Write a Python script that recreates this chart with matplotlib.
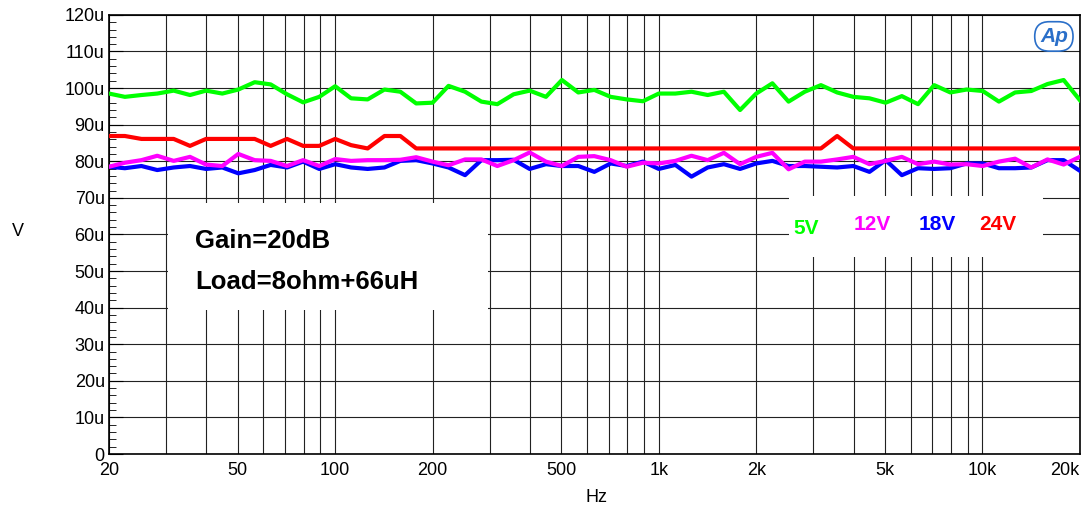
import numpy as np
import matplotlib
matplotlib.use('Agg')
import matplotlib.pyplot as plt
from matplotlib.patches import Rectangle
from matplotlib.ticker import FixedLocator, FuncFormatter

plt.rcParams['font.family'] = ['Liberation Sans', 'DejaVu Sans']

# Frequency points (Hz), ~20 per decade
freqs = [20, 22.4, 25.2, 28.2, 31.7, 35.6, 39.9, 44.8, 50.2, 56.4,
         63.2, 71.0, 79.6, 89.3, 100, 112, 126, 142, 159, 178,
         200, 224, 252, 283, 317, 356, 399, 448, 502, 564,
         632, 710, 796, 893, 1000, 1125, 1262, 1416, 1589, 1783,
         2000, 2244, 2518, 2825, 3170, 3557, 3991, 4477, 5024, 5637,
         6325, 7096, 7962, 8934, 10024, 11247, 12619, 14159, 15887, 17825,
         20000]

# Noise readings in uV
v5 = [98.5, 97.6, 98.1, 98.5, 99.3, 98.1, 99.3, 98.5, 99.6, 101.6,
      101.0, 98.3, 96.1, 97.6, 100.5, 97.2, 96.9, 99.6, 99.0, 95.8,
      96.0, 100.6, 99.0, 96.3, 95.6, 98.3, 99.3, 97.6, 102.2, 98.8,
      99.5, 97.6, 96.9, 96.4, 98.5, 98.5, 99.0, 98.1, 99.0, 94.0,
      98.5, 101.3, 96.3, 99.0, 100.8, 98.8, 97.6, 97.2, 96.0, 97.8,
      95.6, 100.8, 98.8, 99.6, 99.2, 96.3, 98.8, 99.2, 101.1, 102.2,
      96.7]
v24 = [86.9, 86.9, 86.1, 86.1, 86.1, 84.2, 86.1, 86.1, 86.1, 86.1,
       84.2, 86.1, 84.2, 84.2, 86.1, 84.4, 83.5, 86.9, 86.9, 83.5,
       83.5, 83.5, 83.5, 83.5, 83.5, 83.5, 83.5, 83.5, 83.5, 83.5,
       83.5, 83.5, 83.5, 83.5, 83.5, 83.5, 83.5, 83.5, 83.5, 83.5,
       83.5, 83.5, 83.5, 83.5, 83.5, 86.9, 83.5, 83.5, 83.5, 83.5,
       83.5, 83.5, 83.5, 83.5, 83.5, 83.5, 83.5, 83.5, 83.5, 83.5,
       83.5]
v12 = [78.5, 79.6, 80.3, 81.5, 80.1, 81.2, 79.1, 78.7, 82.0, 80.3,
       80.1, 78.7, 80.3, 78.7, 80.6, 80.1, 80.3, 80.3, 80.4, 81.1,
       79.9, 78.9, 80.5, 80.5, 78.7, 80.3, 82.4, 79.9, 78.7, 81.2,
       81.4, 80.3, 78.5, 79.6, 79.4, 80.1, 81.5, 80.3, 82.3, 79.2,
       81.2, 82.3, 77.8, 79.9, 79.9, 80.5, 81.2, 79.2, 80.1, 81.2,
       79.2, 79.9, 79.1, 79.2, 78.7, 79.9, 80.7, 78.3, 80.5, 79.1,
       81.2]
v18 = [78.5, 78.1, 78.7, 77.6, 78.3, 78.7, 77.9, 78.3, 76.7, 77.6,
       79.0, 78.3, 79.9, 77.9, 79.2, 78.3, 77.9, 78.3, 80.1, 80.3,
       79.4, 78.3, 76.2, 80.3, 80.3, 80.4, 77.9, 79.2, 78.7, 78.7,
       77.1, 79.4, 78.7, 79.9, 77.9, 79.0, 75.8, 78.3, 79.2, 77.9,
       79.4, 80.1, 78.7, 78.7, 78.5, 78.3, 78.7, 77.1, 80.3, 76.2,
       78.1, 77.9, 78.1, 79.4, 79.4, 78.1, 78.1, 78.3, 80.3, 80.3,
       77.4]

xtick_vals = [20, 50, 100, 200, 500, 1000, 2000, 5000, 10000, 20000]
xtick_labels = ['20', '50', '100', '200', '500', '1k', '2k', '5k', '10k', '20k']

fig = plt.figure(figsize=(10.82, 5.13), dpi=100)
ax = fig.add_axes([0.1007, 0.115, 0.8973, 0.856])

ax.plot(freqs, v5, color='#00ff00', lw=3, zorder=3)
ax.plot(freqs, v24, color='#ff0000', lw=3, zorder=3)
ax.plot(freqs, v18, color='#0000ff', lw=3, zorder=3)
ax.plot(freqs, v12, color='#ff00ff', lw=3, zorder=3)

ax.set_xscale('log')
ax.set_xlim(20, 20000)
ax.set_ylim(0, 120)

# vertical grid at every 1..9 x decade
grid_x = [m * d for d in [10, 100, 1000, 10000] for m in range(1, 10)]
grid_x = [g for g in grid_x if 20 < g < 20000]
ax.xaxis.set_major_locator(FixedLocator(xtick_vals))
ax.xaxis.set_minor_locator(FixedLocator(grid_x))
ax.set_xticklabels(xtick_labels)
ax.get_xticklabels()[-1].set_ha('right')
ax.yaxis.set_major_locator(FixedLocator(np.arange(0, 121, 10)))
ax.yaxis.set_minor_locator(FixedLocator(np.arange(0, 121, 2)))
ax.yaxis.set_major_formatter(FuncFormatter(lambda v, p: '0' if v == 0 else '%du' % v))

ax.set_axisbelow(True)
ax.grid(True, which='both', axis='x', color='#222222', lw=0.8)
ax.grid(True, which='major', axis='y', color='#222222', lw=0.8)
ax.tick_params(axis='both', which='both', direction='in', labelsize=13)
ax.tick_params(axis='y', which='major', length=10, pad=3)
ax.tick_params(axis='y', which='minor', length=5)
ax.tick_params(axis='x', which='major', length=0, pad=6)
ax.tick_params(axis='x', which='minor', length=0)
for s in ax.spines.values():
    s.set_linewidth(1.2)

# white annotation boxes hiding the grid
ax.add_patch(Rectangle((30.4, 39.3), 296.5 - 30.4, 68.6 - 39.3,
                       facecolor='white', edgecolor='none', zorder=1))
ax.add_patch(Rectangle((2521, 53.8), 15363 - 2521, 70.5 - 53.8,
                       facecolor='white', edgecolor='none', zorder=1))

ax.text(0.0886, 0.485, 'Gain=20dB', transform=ax.transAxes, fontsize=18.5,
        fontweight='bold', va='center', zorder=4)
ax.text(0.0886, 0.392, 'Load=8ohm+66uH', transform=ax.transAxes, fontsize=18.5,
        fontweight='bold', va='center', zorder=4)

legend_items = [('5V', '#00ff00', 0.718), ('12V', '#ff00ff', 0.786),
                ('18V', '#0000ff', 0.853), ('24V', '#ff0000', 0.916)]
for txt, col, xp in legend_items:
    ax.text(xp, 0.514 if txt == '5V' else 0.523, txt, transform=ax.transAxes,
            fontsize=15, fontweight='bold', color=col, ha='center', va='center',
            zorder=4)

# AP logo
fig.text(0.974, 0.929, 'Ap', fontsize=15, fontstyle='italic', fontweight='bold',
         color='#2a6fc9', ha='center', va='center',
         bbox=dict(boxstyle='round,pad=0.25,rounding_size=0.7', fc='white',
                   ec='#2a6fc9', lw=1.2))

fig.text(0.0166, 0.548, 'V', fontsize=13, ha='center', va='center')
fig.text(0.551, 0.031, 'Hz', fontsize=13, ha='center', va='center')

plt.savefig('out.png', dpi=100)
